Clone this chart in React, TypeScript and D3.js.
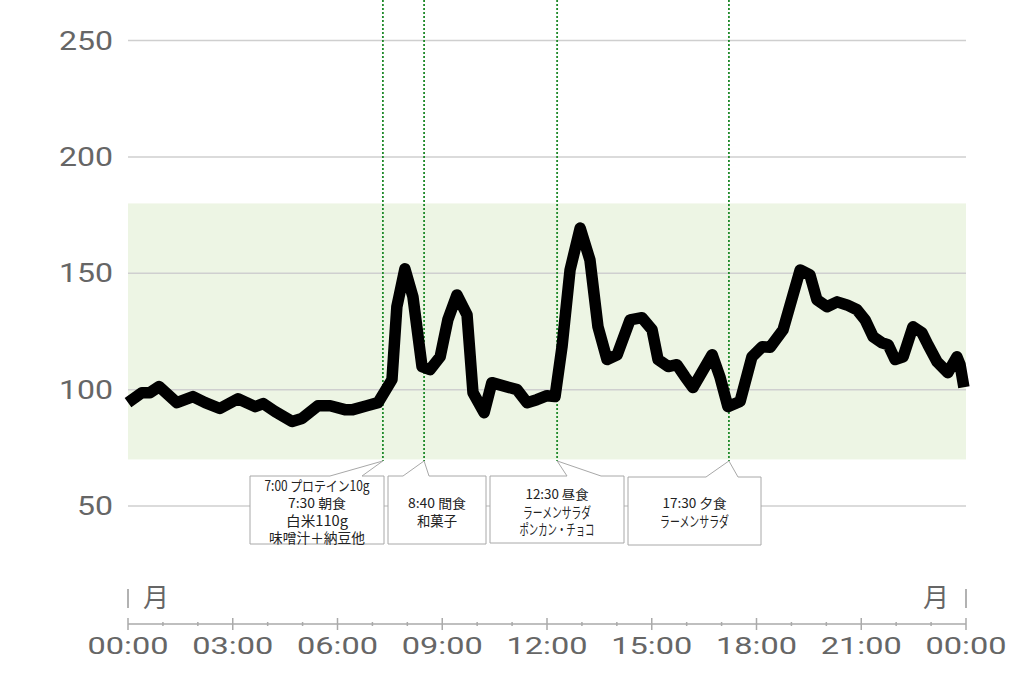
import React from "react";
import * as d3 from "d3";

// ---- data ----
const hours = [
  0, 0.4, 0.63, 0.89, 1.4, 1.86, 2.21, 2.63, 3.15, 3.64, 3.87, 4.21, 4.7, 4.98, 5.44, 5.79, 6.21, 6.44, 6.84, 7.16,
  7.56, 7.7, 7.93, 8.16, 8.42, 8.65, 8.94, 9.16, 9.42, 9.71, 9.88, 10.2, 10.42, 11.14, 11.43, 11.71, 12.0, 12.23,
  12.43, 12.66, 12.95, 13.23, 13.46, 13.72, 14.01, 14.38, 14.72, 15.01, 15.18, 15.47, 15.72, 15.95, 16.18, 16.73,
  16.95, 17.18, 17.53, 17.87, 18.16, 18.39, 18.76, 19.25, 19.53, 19.73, 20.02, 20.31, 20.59, 20.88, 21.11, 21.34,
  21.59, 21.77, 21.97, 22.2, 22.48, 22.74, 22.91, 23.17, 23.48, 23.74, 23.83, 23.94,
];
const glucose = [
  94.4, 98.7, 98.7, 101.3, 94.4, 97, 94.4, 91.9, 96.1, 92.7, 94, 90.6, 86.3, 87.6, 93.1, 93.1, 91.4, 91.4, 93.1, 94.4,
  104.3, 135.6, 151.9, 139.9, 109.9, 108.6, 114.1, 130, 140.7, 132.1, 98.7, 90.1, 103, 100, 94.4, 95.7, 97.4, 97,
  118.4, 151.4, 169.4, 155.7, 127, 112.9, 115, 130, 130.9, 125.7, 112.9, 109.9, 110.7, 105.6, 100.9, 115,
  105.6, 92.7, 94.9, 114.1, 118.4, 118.2, 125.7, 151.4, 149.3, 138.6, 135.6, 137.7, 136.4, 134.3, 130, 122.7,
  120.1, 119.3, 112.9, 114.1, 127, 124.4, 119.3, 112, 107.3, 114.1, 110.7, 101,
];
const yTicks = [50, 100, 150, 200, 250];
const xTickHours = [0, 3, 6, 9, 12, 15, 18, 21, 24];
const xTickLabels = ["00:00", "03:00", "06:00", "09:00", "12:00", "15:00", "18:00", "21:00", "00:00"];
const targetRange = [70, 180];
const dayLabel = "月";
const mealHours = [7.3, 8.48, 12.29, 17.21];
const mealTexts = [
  ["7:00 プロテイン10g", "7:30 朝食", "白米110g", "味噌汁＋納豆他"],
  ["8:40 間食", "和菓子"],
  ["12:30 昼食", "ラーメンサラダ", "ポンカン・チョコ"],
  ["17:30 夕食", "ラーメンサラダ"],
];

// ---- layout ----
const X0 = 128, X1 = 966;
const boxes = [
  { x0: 250, x1: 384, y0: 476, y1: 544, p0: 330, p1: 362, lines: [485, 502, 520, 537], tl: [105, 58, 62, 96], fs: [14, 13, 14, 13.5] },
  { x0: 388, x1: 486, y0: 476, y1: 544, p0: 403, p1: 429, lines: [502, 520], tl: [58, 40], fs: [13, 13.5] },
  { x0: 490, x1: 624, y0: 476, y1: 543, p0: 567, p1: 601, lines: [493, 511, 528], tl: [63, 68, 75], fs: [13, 14.5, 14.5] },
  { x0: 628, x1: 761, y0: 477, y1: 545, p0: 706, p1: 738, lines: [502, 520], tl: [64, 69], fs: [13, 14.5] },
];

export default function App() {
  const x = d3.scaleLinear().domain([0, 24]).range([X0, X1]);
  const y = d3.scaleLinear().domain([50, 250]).range([506, 40.5]);
  const pts = hours.map((h, i) => [h, glucose[i]] as [number, number]);
  const line = d3
    .line<[number, number]>()
    .x((d) => x(d[0]))
    .y((d) => y(d[1]))(pts) as string;
  const minor = d3.range(0, 25, 1);
  const tipY = y(targetRange[0]) + 1.5;

  return (
    <svg
      width={1024}
      height={678}
      style={{ position: "absolute", left: 0, top: 0, background: "#fff" }}
      fontFamily="Roboto, 'Noto Sans', sans-serif"
    >
      <rect
        x={X0}
        y={y(targetRange[1])}
        width={X1 - X0}
        height={y(targetRange[0]) - y(targetRange[1])}
        fill="#edf5e4"
      />
      {yTicks.map((t) => (
        <g key={t}>
          <line x1={X0} x2={X1} y1={y(t)} y2={y(t)} stroke="#cfcfcf" strokeWidth={1.5} />
          <text
            x={113}
            y={y(t) + 9}
            textAnchor="end"
            fontSize={25}
            fill="#666"
            textLength={String(t).length * 18}
            lengthAdjust="spacingAndGlyphs"
          >
            {t}
          </text>
        </g>
      ))}
      {/* meal markers */}
      {mealHours.map((h, i) => (
        <line
          key={i}
          x1={x(h)}
          x2={x(h)}
          y1={0}
          y2={tipY}
          stroke="#1f8a2a"
          strokeWidth={1.8}
          strokeDasharray="2 2"
        />
      ))}
      <path d={line} fill="none" stroke="#000" strokeWidth={11.5} strokeLinejoin="round" strokeLinecap="butt" />
      {/* callouts */}
      {boxes.map((b, i) => {
        const tx = x(mealHours[i]);
        const d = `M${b.x0},${b.y0} L${b.p0},${b.y0} L${tx},${tipY} L${b.p1},${b.y0} L${b.x1},${b.y0} L${b.x1},${b.y1} L${b.x0},${b.y1} Z`;
        const cx = (b.x0 + b.x1) / 2;
        return (
          <g key={i}>
            <path d={d} fill="#fff" stroke="#a8a8a8" strokeWidth={1} />
            {mealTexts[i].map((s, j) => (
              <text
                key={j}
                x={cx}
                y={b.lines[j]}
                textAnchor="middle"
                dominantBaseline="central"
                fontFamily="'Noto Sans CJK JP', sans-serif"
                fontSize={b.fs[j]}
                fill="#222"
                textLength={b.tl[j]}
                lengthAdjust="spacingAndGlyphs"
              >
                {s}
              </text>
            ))}
          </g>
        );
      })}
      {/* x axis */}
      <line x1={X0} x2={X1} y1={624} y2={624} stroke="#aaa" strokeWidth={1.5} />
      {minor.map((h) => (
        <line
          key={h}
          x1={x(h)}
          x2={x(h)}
          y1={h % 3 === 0 ? 618 : 622}
          y2={h % 3 === 0 ? 630 : 626}
          stroke="#aaa"
          strokeWidth={1.5}
        />
      ))}
      {xTickHours.map((h, i) => (
        <text
          key={i}
          x={x(h)}
          y={654}
          textAnchor="middle"
          fontSize={24}
          fill="#666"
          textLength={81}
          lengthAdjust="spacingAndGlyphs"
        >
          {xTickLabels[i]}
        </text>
      ))}
      {/* day labels */}
      <line x1={X0} x2={X0} y1={589} y2={608} stroke="#999" strokeWidth={1.5} />
      <text x={143} y={607} fontSize={26} fill="#666" fontFamily="'Noto Sans CJK JP', sans-serif">
        {dayLabel}
      </text>
      <line x1={X1} x2={X1} y1={589} y2={608} stroke="#999" strokeWidth={1.5} />
      <text x={949} y={607} textAnchor="end" fontSize={26} fill="#666" fontFamily="'Noto Sans CJK JP', sans-serif">
        {dayLabel}
      </text>
    </svg>
  );
}
